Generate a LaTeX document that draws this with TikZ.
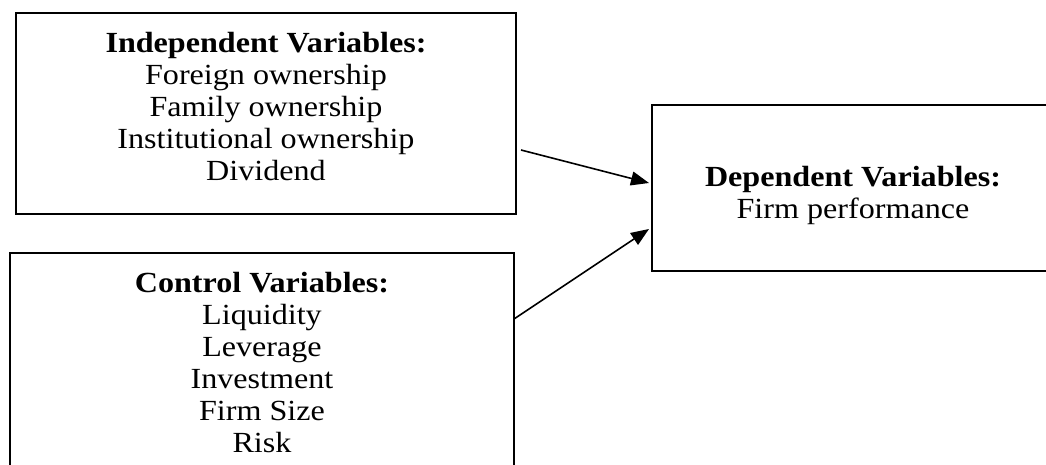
\documentclass[tikz,border=0pt]{standalone}
\usepackage{fontspec}
\setmainfont{Liberation Serif}[FakeStretch=1.1]
\usetikzlibrary{positioning, calc, arrows.meta}
\tikzstyle{every picture}+=[font=\fontsize{14.6}{16}\selectfont]
\tikzstyle{varbox}=[draw=black, line width=1pt, rectangle, inner sep=0pt, outer sep=0pt]
\tikzstyle{vartext}=[align=center, inner sep=0pt, anchor=north]
\tikzstyle{link}=[-{Triangle[length=9pt,width=7pt]}, line width=0.8pt]

\begin{document}
\begin{tikzpicture}[x=0.5pt, y=-0.5pt]
\useasboundingbox (0,0) rectangle (1046,465);
%% Boxes
\node[varbox, minimum width=250pt, minimum height=100.5pt] (indep) at (266,113.5) {};
\node[varbox, minimum width=252pt, minimum height=113.5pt] (control) at (262,366.5) {};
\node[varbox, minimum width=201pt, minimum height=83pt] (dep) at (853,188) {};

%% Labels
\node[vartext, below=9.5pt of indep.north] (indeplabel) {%
  \textbf{Independent Variables:}\\ Foreign ownership\\ Family ownership\\
  Institutional ownership\\ Dividend};
\node[vartext, below=9.5pt of control.north] (controllabel) {%
  \textbf{Control Variables:}\\ Liquidity\\ Leverage\\ Investment\\
  Firm Size\\ Risk};
\node[vartext, below=30.5pt of dep.north] (deplabel) {%
  \textbf{Dependent Variables:}\\ Firm performance};

%% Arrows
\draw[link] ([xshift=2.5pt, yshift=-68.5pt]indep.north east) -- ([xshift=-1.5pt, yshift=2.5pt]dep.west);
\draw[link] ([yshift=-33pt]control.north east) -- ([xshift=-1.5pt, yshift=-20.5pt]dep.west);
\end{tikzpicture}
\end{document}
